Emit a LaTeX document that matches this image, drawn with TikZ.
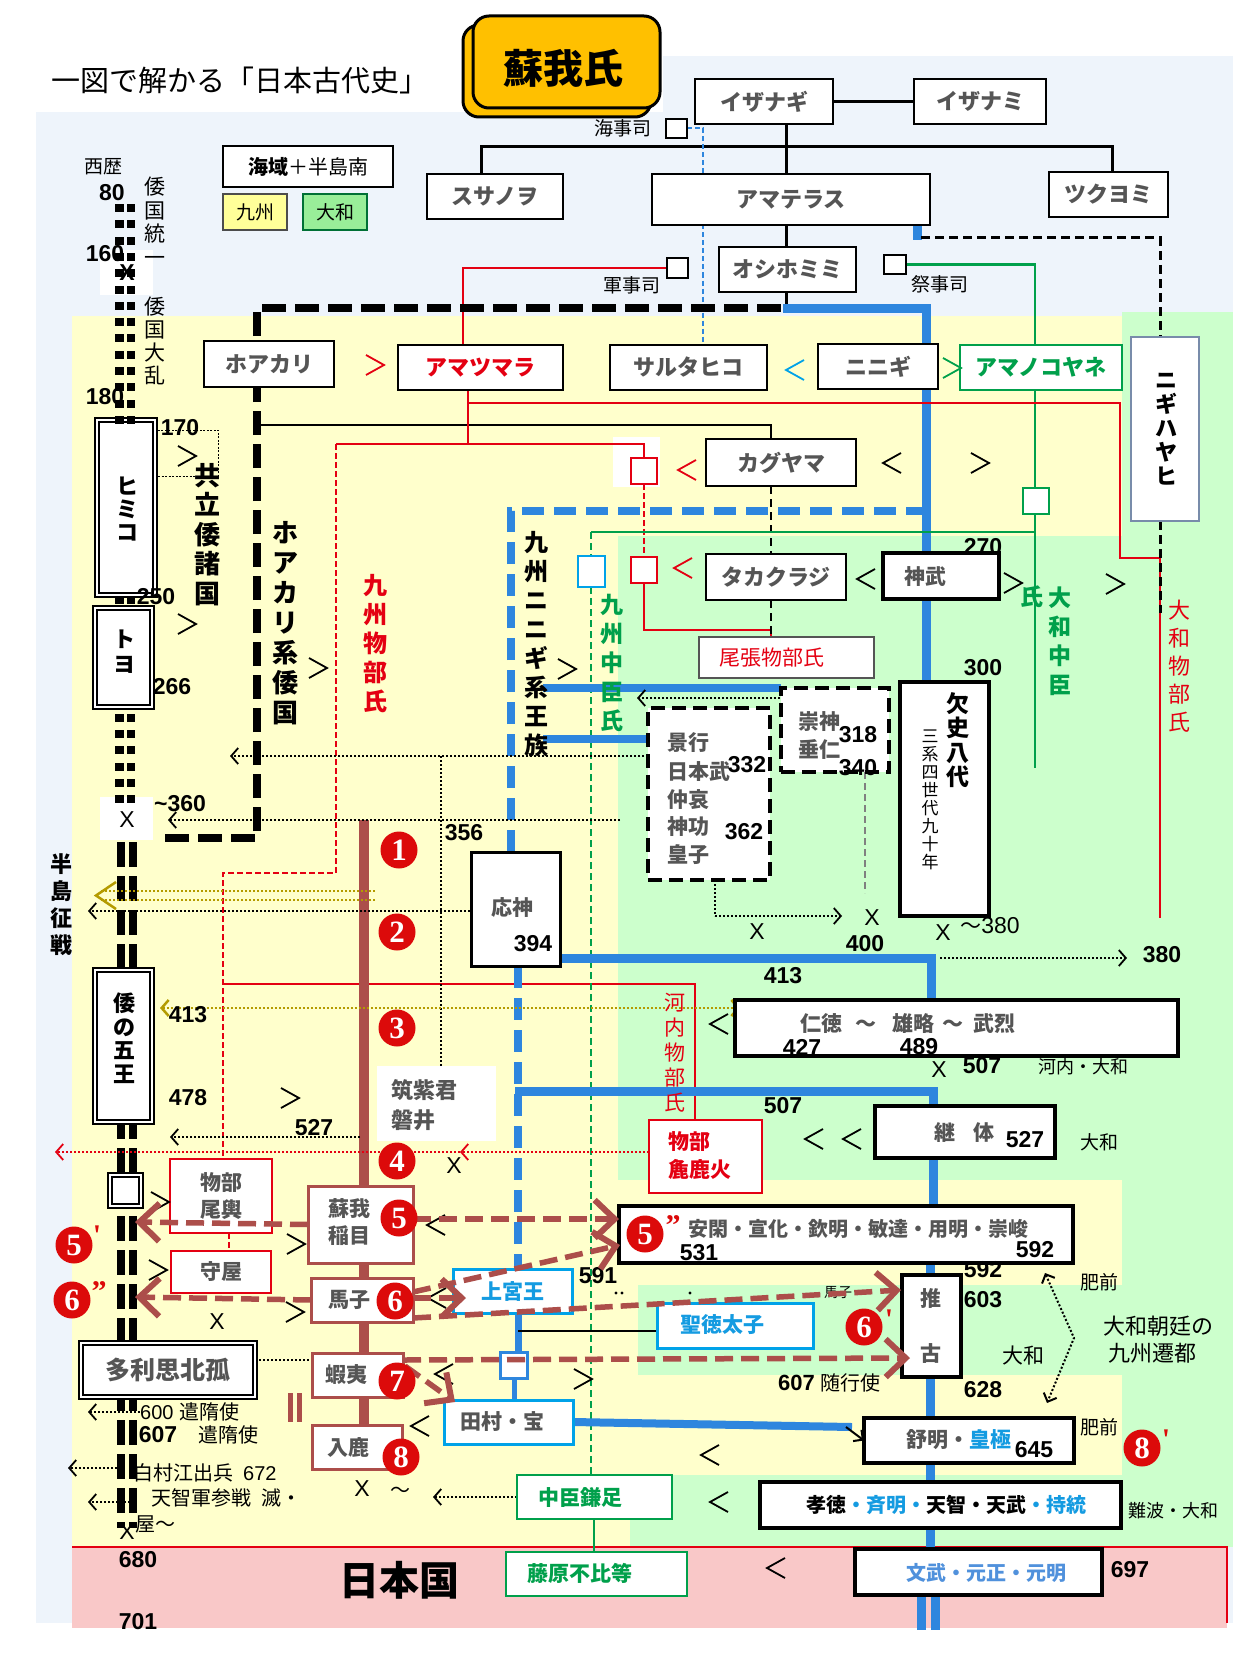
\documentclass[tikz,border=0pt]{standalone}
\usepackage{fontspec}
\setmainfont{Noto Sans CJK JP}
\newfontfamily\nf{Liberation Sans}
\newfontfamily\cserif{Liberation Serif}
\usetikzlibrary{arrows.meta}
\pgfdeclarelayer{back}
\pgfdeclarelayer{mid}
\pgfdeclarelayer{front}
\pgfsetlayers{back,mid,main,front}
\definecolor{bgblue}{RGB}{238,244,251}
\definecolor{bgyel}{RGB}{255,255,204}
\definecolor{bggrn}{RGB}{204,255,204}
\definecolor{bgpink}{RGB}{249,200,200}
\definecolor{lblue}{RGB}{46,134,222}
\definecolor{cyanb}{RGB}{0,162,232}
\definecolor{tblue}{RGB}{20,155,225}
\definecolor{mblue}{RGB}{80,145,220}
\definecolor{brn}{RGB}{172,78,74}
\definecolor{myred}{RGB}{228,0,18}
\definecolor{cred}{RGB}{220,10,10}
\definecolor{mygrn}{RGB}{0,160,75}
\definecolor{olv}{RGB}{180,155,0}
\definecolor{gtext}{RGB}{85,85,85}
\definecolor{orng}{RGB}{255,192,0}
\definecolor{legyel}{RGB}{255,255,153}
\definecolor{leggrn}{RGB}{153,238,153}
\definecolor{nbord}{RGB}{120,140,170}
\newcommand\fz[2]{\fontsize{#1}{#2}\selectfont}
\newcommand\bx[7]{\node[#6,minimum width={(#4)-(#2)},minimum height={(#5)-(#3)}] (#1) at ({((#2)+(#4))/2},{((#3)+(#5))/2}) {#7};}
\newcommand\chl[3][black]{\draw[#1,line width=1.8pt] ({#2+9},{#3-10}) -- ({#2-9},#3) -- ({#2+9},{#3+10});}
\newcommand\chr[3][black]{\draw[#1,line width=1.8pt] ({#2-9},{#3-10}) -- ({#2+9},#3) -- ({#2-9},{#3+10});}
\tikzset{
  bxbase/.style={inner sep=0pt,outer sep=0pt,fill=white},
  gbox/.style={bxbase,draw=black,line width=1.2pt,text=gtext,font={\fz{22}{27}\bfseries}},
  kbox/.style={bxbase,draw=black,line width=4.5pt},
  dkbox/.style={bxbase,draw=black,line width=4pt,dash pattern=on 14pt off 7pt},
  dbox/.style={bxbase,draw=black,line width=1.5pt,double=white,double distance=2.5pt,text=black,font={\fz{22}{24}\bfseries}},
  rbox/.style={bxbase,draw=myred,line width=2.5pt,text=gtext,font={\fz{21}{27}\bfseries}},
  bbox/.style={bxbase,draw=brn,line width=3pt},
  cbox/.style={bxbase,draw=cyanb,line width=3pt,text=tblue,font={\fz{21}{26}\bfseries}},
  nbox/.style={bxbase,draw=mygrn,line width=1.2pt},
  sq/.style={bxbase,draw=black,line width=2pt},
  num/.style={inner sep=0pt,font={\nf\fz{23}{25}\bfseries}},
  xm/.style={inner sep=0pt,font={\nf\fz{23}{25}}},
  lab/.style={inner sep=0pt,font={\fz{19}{22}}},
  gt/.style={inner sep=0pt,text=gtext,font={\fz{21}{27}\bfseries}},
  vt/.style={inner sep=0pt,anchor=north,align=center},
  circ/.style={circle,fill=cred,text=white,minimum size=37pt,inner sep=0pt,font={\cserif\fz{31}{31}\bfseries}},
  prm/.style={inner sep=0pt,text=cred,font={\cserif\fz{30}{30}\bfseries}},
  dt/.style={line width=2pt,dash pattern=on 2pt off 2pt},
  dta/.style={dt,-{Straight Barb[length=7pt,width=16pt,line width=1.8pt]}},
  ba/.style={draw=brn,line width=5.5pt,dash pattern=on 18pt off 8pt,-{Straight Barb[length=20pt,width=38pt,line width=6pt]}},
}
\begin{document}
\begin{tikzpicture}[x=1pt,y=-1pt]
\useasboundingbox (0,0) rectangle (1260,1680);
% ---------------- backgrounds
\begin{pgfonlayer}{back}
\fill[white] (0,0) rectangle (1260,1680);
\fill[bgblue] (36,112) rectangle (1233,1623);
\fill[bgblue] (663,56) rectangle (1233,112);
\fill[bgyel] (72,316) rectangle (1122,1547);
\fill[bggrn] (1122,312) rectangle (1233,1547);
\fill[bggrn] (618,536) rectangle (1122,1180);
\fill[bggrn] (638,1285) rectangle (1122,1375);
\fill[bggrn] (630,1475) rectangle (1122,1547);
\fill[bgpink] (72,1547) rectangle (1227,1628);
\draw[myred,line width=2pt] (72,1547) -- (1227,1547) -- (1227,1623);
\fill[white] (100,250) rectangle (153,295);
\fill[white] (100,797) rectangle (153,840);
\fill[white] (613,437) rectangle (660,487);
\fill[white] (377,1066) rectangle (496,1141);
\end{pgfonlayer}
% ---------------- title
\node[inner sep=0pt,font={\fz{29}{32}}] (title) at (240,80) {一図で解かる「日本古代史」};
\draw[line width=3pt,fill=orng,rounded corners=16pt] (463,25) rectangle (651,117);
\node[draw,line width=3pt,fill=orng,rounded corners=16pt,minimum width=187,minimum height=92,inner sep=0pt] (soga) at (566.5,62) {};
\node[inner sep=0pt,font={\fz{40}{42}\bfseries}] at (563,68) {蘇我氏};
% legend
\bx{lgsea}{223}{146}{393}{187}{gbox,text=black,font={\fz{20}{24}}}{{\bfseries 海域}＋半島南}
\bx{lgk}{223}{194}{287}{230}{gbox,fill=legyel,draw=black!70,text=black,font={\fz{19}{24}}}{九州}
\bx{lgy}{303}{194}{367}{230}{gbox,fill=leggrn,draw=mygrn!70!black,text=black,font={\fz{19}{24}}}{大和}
\node[lab] at (103,167) {西歴};
% ---------------- tree boxes
\bx{izanagi}{695}{79}{833}{124}{gbox}{イザナギ}
\bx{izanami}{914}{79}{1046}{124}{gbox}{イザナミ}
\bx{susanowo}{427}{174}{563}{219}{gbox}{スサノヲ}
\bx{amaterasu}{652}{174}{930}{225}{gbox}{アマテラス}
\bx{tsukuyomi}{1049}{172}{1168}{217}{gbox}{ツクヨミ}
\bx{oshiho}{719}{247}{856}{292}{gbox}{オシホミミ}
\bx{hoakari}{204}{341}{334}{387}{gbox}{ホアカリ}
\bx{amatsu}{398}{345}{563}{390}{gbox,text=myred}{アマツマラ}
\bx{saruta}{610}{345}{767}{390}{gbox}{サルタヒコ}
\bx{ninigi}{818}{344}{938}{389}{gbox}{ニニギ}
\bx{amanoko}{960}{345}{1122}{390}{gbox,draw=mygrn,text=mygrn}{アマノコヤネ}
\bx{nigiha}{1131}{337}{1199}{521}{gbox,draw=nbord}{}
\bx{kaguyama}{706}{439}{856}{486}{gbox}{カグヤマ}
\bx{takakura}{706}{554}{846}{600}{gbox}{タカクラジ}
\bx{owari}{699}{637}{874}{678}{gbox,draw=gtext}{}
\node[inner sep=0pt,text=myred,font={\fz{21}{24}}] at (772,658) {尾張物部氏};
\bx{kaiji}{666}{119}{687}{138}{sq}{}
\bx{gunji}{667}{258}{688}{278}{sq}{}
\bx{saiji}{884}{255}{906}{274}{sq}{}
\bx{rsq1}{631}{458}{657}{484}{sq,draw=myred}{}
\bx{rsq2}{631}{557}{657}{583}{sq,draw=myred}{}
\bx{bsq}{578}{556}{605}{587}{sq,draw=cyanb}{}
\bx{gsq}{1023}{488}{1049}{514}{sq,draw=mygrn}{}
\node[lab] at (623,128) {海事司};
\node[lab] at (632,285) {軍事司};
\node[lab] at (940,284) {祭事司};
% ---------------- kings column
\bx{jinmu}{883}{553}{999}{599}{kbox}{}
\node[gt] at (925,577) {神武};
\bx{kesshi}{900}{682}{989}{916}{kbox}{}
\bx{keiko}{648}{708}{770}{880}{dkbox}{}
\node[gt,anchor=west] at (667,743) {景行};
\node[gt,anchor=west] at (667,772) {日本武};
\node[gt,anchor=west] at (667,800) {仲哀};
\node[gt,anchor=west] at (667,827) {神功};
\node[gt,anchor=west] at (667,855) {皇子};
\bx{sujin}{781}{688}{889}{772}{dkbox}{}
\node[gt,anchor=west] at (798,722) {崇神};
\node[gt,anchor=west] at (798,749) {垂仁};
\bx{ojin}{471}{852}{560}{966}{gbox,line width=3pt}{}
\node[gt] at (512,908) {応神};
\bx{nintoku}{735}{1000}{1178}{1056}{kbox}{}
\node[gt,anchor=west] at (800,1024) {仁徳\hspace{13pt}～\hspace{16pt}雄略\hspace{8pt}～\hspace{10pt}武烈};
\bx{keitai}{875}{1106}{1055}{1158}{kbox}{}
\node[gt] at (964,1133) {継\hspace{18pt}体};
\bx{ankan}{619}{1206}{1073}{1263}{kbox}{}
\node[gt,anchor=west,font={\fz{20}{24}\bfseries}] at (688,1229) {安閑・宣化・欽明・敏達・用明・崇峻};
\bx{suiko}{902}{1275}{961}{1377}{kbox}{}
\node[gt] at (931,1298) {推};
\node[gt] at (931,1353) {古};
\bx{jomei}{864}{1418}{1074}{1463}{kbox}{}
\node[gt,anchor=west] at (906,1440) {舒明・{\color{tblue}皇極}};
\bx{kotoku}{760}{1482}{1121}{1528}{kbox}{}
\node[gt,anchor=west,text=black,font={\fz{20}{24}\bfseries}] at (806,1505) {孝徳{\color{tblue}・斉明・}天智・天武{\color{tblue}・持統}};
\bx{monmu}{855}{1549}{1102}{1595}{kbox}{}
\node[gt,anchor=west,text=mblue,font={\fz{20}{24}\bfseries}] at (906,1573) {文武・元正・元明};
% ---------------- left column boxes
\bx{himiko}{97}{420}{155}{595}{dbox}{}
\bx{toyo}{95}{608}{152}{707}{dbox}{}
\bx{wano}{95}{970}{152}{1122}{dbox}{}
\bx{tarishi}{81}{1343}{255}{1397}{dbox,text=gtext,font={\fz{25}{27}\bfseries}}{多利思北孤}
\bx{lsq}{110}{1175}{141}{1206}{dbox}{}
\bx{okoshi}{170}{1159}{272}{1233}{rbox,align=center}{物部\\尾輿}
\bx{moriya}{171}{1251}{271}{1293}{rbox}{守屋}
\bx{iname}{308}{1186}{413}{1263}{bbox}{}
\node[gt,align=center] at (349,1222) {蘇我\\稲目};
\bx{umako}{311}{1278}{413}{1322}{bbox}{}
\node[gt] at (349,1300) {馬子};
\bx{emishi}{312}{1353}{403}{1397}{bbox}{}
\node[gt] at (346,1375) {蝦夷};
\bx{iruka}{312}{1425}{402}{1469}{bbox}{}
\node[gt] at (348,1447) {入鹿};
\bx{araka}{649}{1120}{762}{1193}{rbox}{}
\node[gt,text=myred,anchor=west] at (668,1142) {物部};
\node[gt,text=myred,anchor=west] at (668,1169) {麁鹿火};
\bx{jogu}{453}{1269}{572}{1313}{cbox}{上宮王}
\bx{shotoku}{657}{1303}{813}{1348}{cbox}{}
\node[gt,text=tblue] at (722,1325) {聖徳太子};
\bx{tamura}{444}{1400}{573}{1444}{cbox}{}
\node[gt] at (502,1422) {田村・宝};
\bx{bsq2}{500}{1352}{527}{1378}{sq,draw=lblue,line width=3pt}{}
\bx{kamatari}{517}{1475}{672}{1519}{nbox}{}
\node[gt,text=mygrn] at (580,1497) {中臣鎌足};
\bx{fuhito}{506}{1552}{687}{1596}{nbox}{}
\node[gt,text=mygrn] at (580,1573) {藤原不比等};
\node[gt,anchor=west,font={\fz{22}{30}\bfseries},align=left] at (391,1105) {筑紫君\\磐井};
\node[inner sep=0pt,font={\fz{40}{42}\bfseries}] at (399,1580) {日本国};
% ---------------- vertical texts
\node[vt,font={\fz{21}{23.5}}] at (155,177) {倭\\国\\統\\一};
\node[vt,font={\fz{21}{23}}] at (155,297) {倭\\国\\大\\乱};
\node[vt,font={\fz{26}{29.5}\bfseries}] at (207,463) {共\\立\\倭\\諸\\国};
\node[vt,font={\fz{26}{30}\bfseries}] at (285,521) {ホ\\ア\\カ\\リ\\系\\倭\\国};
\node[vt,font={\fz{24}{29}\bfseries},text=myred] at (375,574) {九\\州\\物\\部\\氏};
\node[vt,font={\fz{24}{29}\bfseries}] at (536,531) {九\\州\\ニ\\ニ\\ギ\\系\\王\\族};
\node[vt,font={\fz{23}{29}\bfseries},text=mygrn] at (612,594) {九\\州\\中\\臣\\氏};
\node[vt,font={\fz{23}{29}\bfseries},text=mygrn] at (1060,587) {大\\和\\中\\臣};
\node[inner sep=0pt,font={\fz{23}{29}\bfseries},text=mygrn] at (1032,597) {氏};
\node[vt,font={\fz{22}{28}},text=myred] at (1179,600) {大\\和\\物\\部\\氏};
\node[vt,font={\fz{21}{25}},text=myred] at (675,993) {河\\内\\物\\部\\氏};
\node[vt,font={\fz{23}{24.5}\bfseries}] at (958,692) {欠\\史\\八\\代};
\node[vt,font={\fz{17}{18}}] at (930,730) {三\\系\\四\\世\\代\\九\\十\\年};
\node[vt,font={\fz{22}{27}\bfseries}] at (61,853) {半\\島\\征\\戦};
\node[vt,font={\fz{22}{23}\bfseries}] at (127,477) {ヒ\\ミ\\コ};
\node[vt,font={\fz{22}{25}\bfseries}] at (124,630) {ト\\ヨ};
\node[vt,font={\fz{22}{23.5}\bfseries}] at (124,993) {倭\\の\\五\\王};
\node[vt,font={\fz{22}{24}\bfseries}] at (1166,373) {ニ\\ギ\\ハ\\ヤ\\ヒ};
% ---------------- numbers
\node[num] at (112,193) {80};
\node[num] at (105,254) {160};
\node[num] at (105,397) {180};
\node[num] at (180,428) {170};
\node[num] at (156,597) {250};
\node[num] at (172,687) {266};
\node[num] at (180,804) {\textasciitilde 360};
\node[num] at (464,833) {356};
\node[num] at (983,547) {270};
\node[num] at (983,668) {300};
\node[num] at (747,765) {332};
\node[num] at (744,832) {362};
\node[num] at (858,735) {318};
\node[num] at (858,768) {340};
\node[num] at (865,944) {400};
\node[inner sep=0pt] at (990,926) {{\fz{21}{24}～}{\nf\fz{23}{25}380}};
\node[num] at (1162,955) {380};
\node[num] at (533,944) {394};
\node[num] at (783,976) {413};
\node[num] at (802,1047) {427};
\node[num] at (919,1047) {489};
\node[num] at (982,1066) {507};
\node[num] at (783,1106) {507};
\node[num] at (1025,1140) {527};
\node[num] at (188,1015) {413};
\node[num] at (188,1098) {478};
\node[num] at (314,1128) {527};
\node[num] at (699,1253) {531};
\node[num] at (1035,1250) {592};
\node[num] at (598,1276) {591};
\node[num] at (983,1270) {592};
\node[num] at (983,1300) {603};
\node[num] at (983,1390) {628};
\node[num] at (1034,1450) {645};
\node[num] at (1130,1570) {697};
\node[num] at (138,1560) {680};
\node[num] at (138,1622) {701};
\node[num] at (158,1435) {607};
\node[inner sep=0pt,anchor=west] at (778,1383) {{\nf\fz{22}{24}\bfseries 607}\hspace{6pt}{\fz{20}{24}随行使}};
% X marks
\node[xm,font={\nf\fz{23}{25}\bfseries}] at (127,273) {X};
\node[xm] at (127,820) {X};
\node[xm] at (757,932) {X};
\node[xm] at (872,918) {X};
\node[xm] at (943,933) {X};
\node[xm] at (939,1070) {X};
\node[xm] at (454,1166) {X};
\node[xm] at (217,1322) {X};
\node[xm] at (362,1489) {X};
\node[inner sep=0pt,font={\fz{20}{22}}] at (400,1492) {～};
\node[xm] at (127,1532) {X};
% small labels
\node[lab,font={\fz{18}{22}}] at (1083,1067) {河内・大和};
\node[lab] at (1099,1142) {大和};
\node[lab] at (1099,1282) {肥前};
\node[lab] at (1099,1427) {肥前};
\node[lab,font={\fz{21}{24}}] at (1023,1355) {大和};
\node[lab,font={\fz{22}{24}}] at (1158,1326) {大和朝廷の};
\node[lab,font={\fz{22}{24}}] at (1152,1353) {九州遷都};
\node[lab,font={\fz{18}{22}}] at (1173,1511) {難波・大和};
\node[inner sep=0pt,anchor=west] at (140,1412) {{\nf\fz{20}{22}600}\hspace{6pt}{\fz{20}{22}遣隋使}};
\node[lab,font={\fz{20}{22}},anchor=west] at (198,1435) {遣隋使};
\node[inner sep=0pt,anchor=west] at (133,1473) {{\fz{20}{22}白村江出兵}\hspace{10pt}{\nf\fz{20}{22}672}};
\node[lab,font={\fz{20}{22}},anchor=west] at (151,1498) {天智軍参戦\hspace{10pt}滅・};
\node[lab,font={\fz{20}{22}},anchor=west] at (135,1524) {屋～};
\node[inner sep=0pt,font={\fz{14}{16}}] at (838,1293) {馬子};
\fill (616,1293) circle (1.6pt) (622,1293) circle (1.6pt) (690,1293) circle (1.6pt);
\fill[brn] (288,1393) rectangle (293,1422);
\fill[brn] (297,1393) rectangle (302,1422);
% chevrons
\chr[myred]{375}{365}
\chl[cyanb]{795}{370}
\chr[mygrn]{952}{368}
\chl[myred]{687}{470}
\chl[myred]{683}{568}
\chr{187}{456}
\chr{187}{624}
\chr{318}{668}
\chr{567}{669}
\chl{892}{463}
\chr{980}{463}
\chl{866}{579}
\chr{1013}{583}
\chr{1115}{584}
\chl{719}{1024}
\chl{814}{1139}
\chl{852}{1139}
\chr{290}{1098}
\chr{160}{1202}
\chr{296}{1244}
\chr{158}{1270}
\chr{295}{1312}
\chl{436}{1225}
\chl{437}{1298}
\chl{444}{1374}
\chr{583}{1379}
\chl{420}{1426}
\chl{710}{1455}
\chl{719}{1502}
\chl{776}{1568}
% timeline squares
\foreach \yy in {204,220.3,...,416} {\fill (115,\yy) rectangle +(9,8); \fill (127,\yy) rectangle +(8,8);}
\fill (115,597) rectangle +(9,7); \fill (127,597) rectangle +(8,7);
\foreach \yy in {714,730.2,...,800} {\fill (115,\yy) rectangle +(9,8); \fill (127,\yy) rectangle +(8,8);}
% ---------------- connectors
\begin{pgfonlayer}{mid}
\draw[line width=3pt] (izanagi) -- (izanami);
\draw[line width=3pt] (786,124) -- (786,174);
\draw[line width=3pt] (481,174) -- (481,147) -- (1112,147) -- (1112,172);
\draw[line width=3pt] (786,225) -- (786,247);
\draw[line width=3pt] (786,292) -- (786,308);
\draw[lblue,line width=2pt,dash pattern=on 5pt off 3pt] (kaiji.east) -- (703,128.5) -- (703,345);
\draw[myred,line width=2.5pt] (gunji.west) -- (463,268) -- (463,345);
\draw[mygrn,line width=2.5pt] (saiji.east) -- (1035,264.5) -- (1035,768);
\draw[lblue,line width=9pt] (917,225) -- (917,240);
\draw[line width=3pt,dash pattern=on 9pt off 5pt] (921,238) -- (1160,238) -- (1160,337);
\draw[line width=8pt,dash pattern=on 24pt off 9pt] (165,838) -- (257,838) -- (257,308) -- (787,308);
\draw[lblue,line width=9pt] (783,308) -- (926,308) -- (926,553);
\draw[lblue,line width=9pt] (926,599) -- (926,682);
\draw[line width=2.5pt] (257,425) -- (771,425) -- (771,439);
\draw[myred,line width=2.5pt] (468,390) -- (468,444);
\draw[myred,line width=2.5pt] (468,403) -- (1120,403) -- (1120,558) -- (1160,558) -- (1160,918);
\draw[line width=3pt,dash pattern=on 9pt off 5pt] (1160,521) -- (1160,613);
\draw[myred,line width=2.5pt] (336,444) -- (644,444) -- (644,458);
\draw[myred,line width=2.2pt,dash pattern=on 6pt off 3pt] (336,444) -- (336,873) -- (223,873) -- (223,1159);
\draw[myred,line width=2.2pt,dash pattern=on 6pt off 3pt] (229,1233) -- (229,1251);
\draw[myred,line width=2.5pt,dash pattern=on 6pt off 3pt] (644,484) -- (644,557);
\draw[myred,line width=2.5pt] (644,583) -- (644,630) -- (771,630) -- (771,637);
\draw[myred,line width=2.5pt] (223,984) -- (695,984) -- (695,1120);
\draw[line width=2.5pt,dash pattern=on 8pt off 5pt] (771,486) -- (771,554);
\draw[line width=2.5pt,dash pattern=on 8pt off 5pt] (771,600) -- (771,637);
\draw[mygrn,line width=2.5pt] (591,532) -- (1035,532);
\draw[mygrn,line width=2.5pt,dash pattern=on 7pt off 4pt] (591,532) -- (591,1475);
\draw[mygrn,line width=2.5pt] (594,1519) -- (594,1552);
\draw[lblue,line width=8pt,dash pattern=on 22pt off 10pt] (511,852) -- (511,511) -- (930,511);
\draw[lblue,line width=8pt,dash pattern=on 22pt off 10pt] (518,966) -- (518,1269);
\draw[lblue,line width=8pt] (543,688) -- (781,688);
\draw[lblue,line width=8pt] (543,739) -- (648,739);
\draw[lblue,line width=9pt] (560,958) -- (931,958) -- (931,1000);
\draw[lblue,line width=9pt] (515,1091) -- (933,1091) -- (933,1106);
\draw[lblue,line width=9pt] (933,1158) -- (933,1206);
\draw[lblue,line width=9pt] (930,1263) -- (930,1275);
\draw[lblue,line width=9pt] (930,1377) -- (930,1418);
\draw[lblue,line width=9pt] (930,1463) -- (930,1482);
\draw[lblue,line width=9pt] (930,1528) -- (930,1549);
\draw[lblue,line width=9pt] (921.5,1595) -- (921.5,1630);
\draw[lblue,line width=9pt] (935.5,1595) -- (935.5,1630);
\draw[lblue,line width=7pt] (518,1313) -- (518,1352);
\draw[line width=2pt] (518,1331) -- (657,1331);
\draw[lblue,line width=5pt] (514,1378) -- (514,1400);
\draw[lblue,line width=8pt] (tamura.east) -- (852,1427);
\draw[line width=2pt,-{Straight Barb[length=7pt,width=14pt]}] (846,1427) -- (jomei.west);
\draw[brn,line width=10pt] (364,820) -- (364,1186);
\draw[brn,line width=10pt] (364,1263) -- (364,1278);
\draw[brn,line width=10pt] (364,1322) -- (364,1353);
\draw[brn,line width=10pt] (364,1397) -- (364,1425);
\draw[gray,line width=2.5pt,dash pattern=on 7pt off 4pt] (865,772) -- (865,893);
% double dashed timeline bars
\draw[line width=8pt,dash pattern=on 25pt off 9pt] (120.5,842) -- (120.5,1528);
\draw[line width=8pt,dash pattern=on 25pt off 9pt] (132.5,842) -- (132.5,1528);
% dotted arrows
\draw[dta] (keiko.west |- 0,756) -- (230,756);
\draw[dt] (441,756) -- (441,1066);
\draw[dta] (620,820) -- (168,820);
\draw[dta] (470,911) -- (88,911);
\draw[dt] (715,880) -- (715,916);
\draw[dta] (715,916) -- (842,916);
\draw[dta] (940,958) -- (1127,958);
\draw[dta] (780,698) -- (637,698);
\draw[dta] (360,1137) -- (170,1137);
\draw[dta,myred] (649,1152) -- (460,1152);
\draw[dta,myred] (460,1152) -- (55,1152);
\draw[dt,olv,line width=2.5pt] (375,891) -- (100,891);
\draw[dt,olv,line width=2.5pt] (375,900) -- (100,900);
\draw[olv,line width=2.5pt] (116,882) -- (96,895.5) -- (116,909);
\draw[dt,olv,line width=2.5pt,{Straight Barb[length=7pt,width=16pt]}-{Straight Barb[length=7pt,width=16pt]}] (160,1008) -- (740,1008);
\draw[dt] (tarishi.east |- 0,1360) -- (emishi.west |- 0,1360);
\draw[dta] (140,1412) -- (88,1412);
\draw[dta] (117,1468) -- (68,1468);
\draw[dta] (130,1502) -- (88,1502);
\draw[dta] (kamatari.west) -- (433,1497);
\draw[dt,{Straight Barb[length=7pt,width=14pt]}-{Straight Barb[length=7pt,width=14pt]}] (1045,1273) -- (1074,1338) -- (1047,1403);
\draw[line width=0.8pt,dash pattern=on 2pt off 1.5pt] (155,430) rectangle (218,476);
\end{pgfonlayer}
% ---------------- brown arrows and circled numbers
\begin{pgfonlayer}{front}
\draw[ba] (iname.west) -- (135,1222);
\draw[ba] (413,1219) -- (619,1219);
\draw[ba] (413,1292) -- (620,1245);
\draw[ba] (413,1298) -- (466,1298);
\draw[ba] (413,1318) -- (901,1290);
\draw[ba] (umako.west) -- (135,1297);
\draw[ba] (403,1360) -- (910,1358);
\draw[ba] (405,1366) -- (455,1402);
\node[circ] at (399,850) {1};
\node[circ] at (397,932) {2};
\node[circ] at (397,1028) {3};
\node[circ] at (397,1161) {4};
\node[circ] at (399,1218) {5};
\node[circ] at (395,1301) {6};
\node[circ] at (397,1381) {7};
\node[circ] at (401,1457) {8};
\node[circ] at (74,1245) {5};
\node[prm] at (97,1236) {'};
\node[circ] at (72,1300) {6};
\node[prm] at (99,1292) {”};
\node[circ] at (645,1234) {5};
\node[prm] at (673,1226) {”};
\node[circ] at (864,1327) {6};
\node[prm] at (889,1320) {'};
\node[circ] at (1142,1448) {8};
\node[prm] at (1166,1440) {'};
\end{pgfonlayer}
\end{tikzpicture}
\end{document}
